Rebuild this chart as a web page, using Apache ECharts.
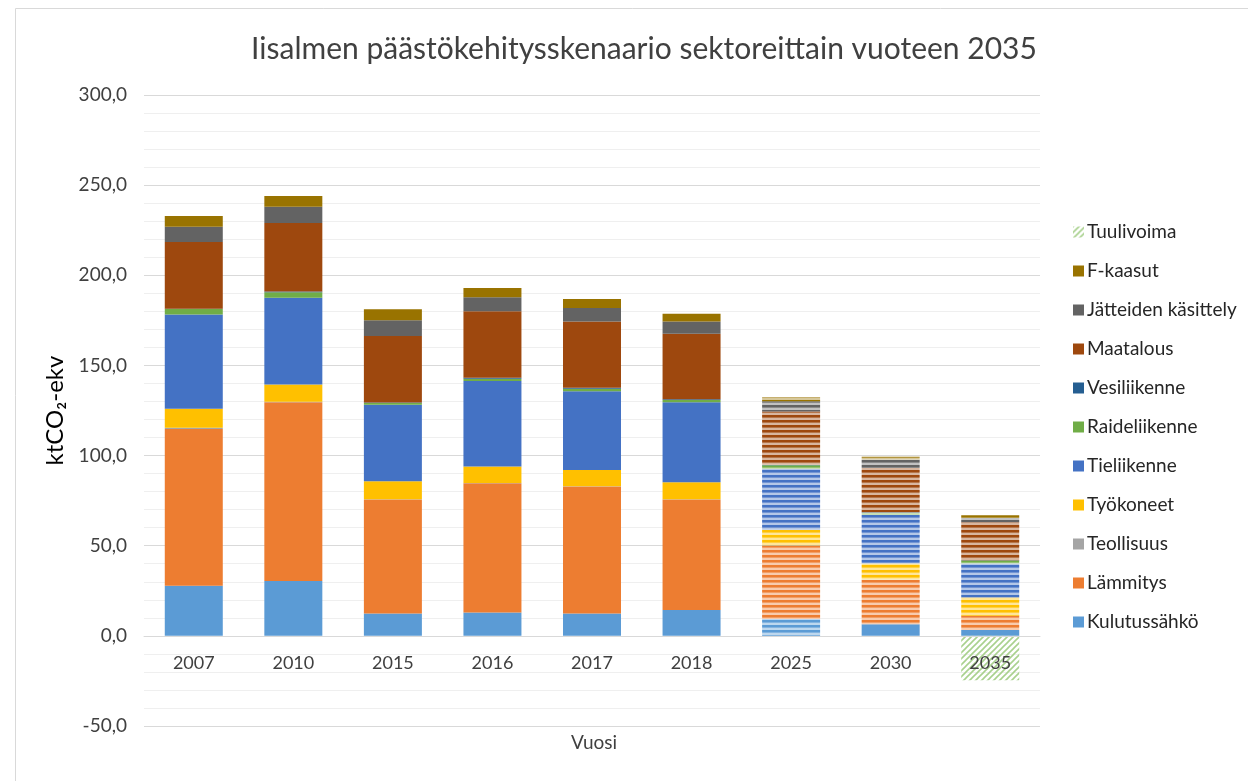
<!DOCTYPE html>
<html>
<head>
<meta charset="utf-8">
<title>Iisalmen päästökehitysskenaario</title>
<script src="https://cdn.jsdelivr.net/npm/echarts@6/dist/echarts.min.js"></script>
<style>
  html, body { margin: 0; padding: 0; background: #fff; }
  #main { width: 1248px; height: 781px; }
</style>
</head>
<body>
<div id="main"></div>
<script>
// vuodet
var years = ['2007', '2010', '2015', '2016', '2017', '2018', '2025', '2030', '2035']
// sektorit (ktCO2-ekv)
var kulutussahko = [27.8, 30.4, 12.4, 12.9, 12.4, 14.3, 9.3, 6.5, 3.3]
var lammitys = [87.0, 99.2, 63.2, 71.7, 70.4, 61.3, 40.7, 24.6, 7.8]
var teollisuus = [0.6, 0.3, 0.2, 0.2, 0.2, 0.2, 0.2, 0.1, 0.1]
var tyokoneet = [10.6, 9.5, 10.0, 9.1, 9.0, 9.4, 8.7, 9.0, 10.1]
var tieliikenne = [52.3, 48.2, 42.4, 47.4, 43.7, 44.4, 33.7, 26.8, 18.9]
var raideliikenne = [3.0, 3.0, 0.9, 1.3, 1.3, 1.2, 2.0, 1.3, 1.6]
var vesiliikenne = [0.2, 0.4, 0.3, 0.6, 0.6, 0.4, 0.3, 0.2, 0.2]
var maatalous = [37.0, 38.0, 36.9, 36.8, 36.8, 36.4, 29.5, 24.6, 21.0]
var jatteet = [8.4, 9.0, 8.7, 7.8, 7.5, 6.8, 5.8, 4.7, 2.4]
var fkaasut = [6.0, 6.0, 6.1, 5.1, 5.0, 4.3, 2.2, 1.6, 1.5]
var tuulivoima = [null, null, null, null, null, null, null, null, -24.6]
var yTicks = [-50, 0, 50, 100, 150, 200, 250, 300]

var sectors = [
  { name: 'Kulutussähkö', data: kulutussahko, color: '#5B9BD5' },
  { name: 'Lämmitys', data: lammitys, color: '#ED7D31' },
  { name: 'Teollisuus', data: teollisuus, color: '#A5A5A5' },
  { name: 'Työkoneet', data: tyokoneet, color: '#FFC000' },
  { name: 'Tieliikenne', data: tieliikenne, color: '#4472C4' },
  { name: 'Raideliikenne', data: raideliikenne, color: '#70AD47' },
  { name: 'Vesiliikenne', data: vesiliikenne, color: '#255E91' },
  { name: 'Maatalous', data: maatalous, color: '#9E480E' },
  { name: 'Jätteiden käsittely', data: jatteet, color: '#636363' },
  { name: 'F-kaasut', data: fkaasut, color: '#997300' }
]

// vaalennettu väri raidoille
function tint(hex, f) {
  var r = parseInt(hex.substr(1, 2), 16), g = parseInt(hex.substr(3, 2), 16), b = parseInt(hex.substr(5, 2), 16)
  r = Math.round(r + (255 - r) * f); g = Math.round(g + (255 - g) * f); b = Math.round(b + (255 - b) * f)
  return 'rgb(' + r + ',' + g + ',' + b + ')'
}

// vaakaraidat skenaariovuosille
function stripes(hex) {
  var c = document.createElement('canvas')
  c.width = 4; c.height = 5
  var ctx = c.getContext('2d')
  ctx.fillStyle = tint(hex, 0.6)
  ctx.fillRect(0, 0, 4, 5)
  ctx.fillStyle = hex
  ctx.fillRect(0, 0, 4, 2)
  ctx.fillStyle = tint(hex, 0.25)
  ctx.fillRect(0, 2, 4, 1)
  return { image: c, repeat: 'repeat' }
}

// vinoviivoitus tuulivoimalle (läpinäkyvä tausta)
function hatch() {
  var c = document.createElement('canvas')
  c.width = 6; c.height = 6
  var ctx = c.getContext('2d')
  ctx.strokeStyle = '#A9D18E'
  ctx.lineWidth = 1.6
  ctx.beginPath()
  ctx.moveTo(-1, 7); ctx.lineTo(7, -1)
  ctx.moveTo(-4, 4); ctx.lineTo(4, -4)
  ctx.moveTo(2, 10); ctx.lineTo(10, 2)
  ctx.stroke()
  return { image: c, repeat: 'repeat' }
}

var series = sectors.map(function (s) {
  var pat = stripes(s.color)
  return {
    name: s.name,
    type: 'bar',
    stack: 'total',
    barWidth: 58,
    itemStyle: { color: s.color },
    data: s.data.map(function (v, i) {
      var future = i >= 6 && !(s.name === 'Kulutussähkö' && i >= 7)
      return future ? { value: v, itemStyle: { color: pat } } : v
    })
  }
})
series.push({
  name: 'Tuulivoima',
  type: 'bar',
  stack: 'total',
  barWidth: 58,
  itemStyle: { color: hatch() },
  data: tuulivoima
})

var legendNames = series.map(function (s) { return s.name }).reverse()

var chart = echarts.init(document.getElementById('main'))
chart.setOption({
  animation: false,
  textStyle: { fontFamily: 'Lato, "Liberation Sans", sans-serif' },
  title: {
    text: 'Iisalmen päästökehitysskenaario sektoreittain vuoteen 2035',
    left: 639,
    top: 29,
    textAlign: 'center',
    textStyle: { fontSize: 30, fontWeight: 'normal', color: '#404040', fontFamily: 'Lato, sans-serif' }
  },
  graphic: [
    {
      type: 'rect',
      shape: { x: 15.5, y: 8.5, width: 1400, height: 900 },
      style: { fill: null, stroke: '#d9d9d9', lineWidth: 1 },
      silent: true
    },
    {
      type: 'text',
      left: 571,
      top: 733,
      style: { text: 'Vuosi', fontSize: 19, fill: '#404040', fontFamily: 'Lato, sans-serif' }
    }
  ],
  legend: {
    data: legendNames,
    orient: 'vertical',
    left: 1068,
    top: 217,
    itemWidth: 11,
    itemHeight: 11,
    itemGap: 19,
    icon: 'rect',
    selectedMode: false,
    textStyle: { fontSize: 19, color: '#262626', lineHeight: 20, padding: [0, 0, 0, -2] }
  },
  grid: { left: 144, right: 208, top: 95, bottom: 55 },
  xAxis: {
    type: 'category',
    data: years,
    offset: -90,
    z: 10,
    axisTick: { show: false },
    axisLine: { onZero: false, lineStyle: { color: '#d9d9d9', width: 1 } },
    axisLabel: { fontSize: 18, color: '#404040', margin: 18, hideOverlap: false }
  },
  yAxis: {
    type: 'value',
    min: yTicks[0],
    max: yTicks[yTicks.length - 1],
    interval: 50,
    name: 'ktCO₂-ekv',
    nameLocation: 'middle',
    nameGap: 74,
    nameTextStyle: { fontSize: 24, color: '#000' },
    axisLine: { show: false },
    axisTick: { show: false },
    axisLabel: {
      fontSize: 19,
      color: '#404040',
      margin: 17,
      formatter: function (v) { return v.toFixed(1).replace('.', ',') }
    },
    splitLine: { lineStyle: { color: '#d9d9d9' } },
    minorTick: { show: false, splitNumber: 5 },
    minorSplitLine: { show: true, lineStyle: { color: '#efefef' } }
  },
  series: series
})
</script>
</body>
</html>
